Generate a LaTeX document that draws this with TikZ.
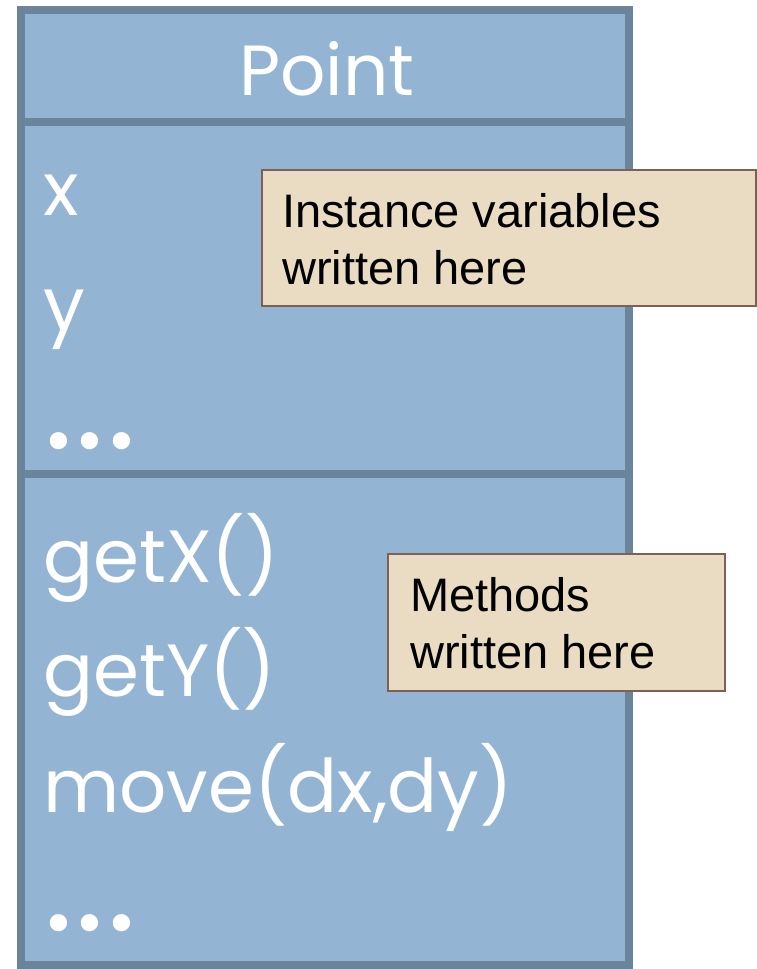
\documentclass[tikz,border=0pt]{standalone}
\usepackage{fontspec}
\setmainfont{Poppins}
\newfontfamily\notefont{Liberation Sans}
\definecolor{clsfill}{HTML}{93B4D2}
\definecolor{clsline}{HTML}{6A859B}
\definecolor{notefill}{HTML}{EADCC3}
\definecolor{noteline}{HTML}{7F6055}
\tikzset{
  px/.style={x=1pt,y=-1pt},
  clsbox/.style={draw=clsline, fill=clsfill, line width=8pt, rectangle, inner sep=0pt},
  divider/.style={draw=clsline, line width=8pt},
  member/.style={anchor=base west, inner sep=0pt, text=white, font=\fontsize{74}{90}\selectfont},
  dotsrow/.style={anchor=west, inner sep=0pt, text=white, font=\fontsize{70}{90}\selectfont},
  title/.style={anchor=base, inner sep=0pt, text=white, font=\fontsize{71}{90}\selectfont},
  notebox/.style={draw=noteline, fill=notefill, line width=2pt, rectangle, inner sep=0pt},
  notetext/.style={anchor=base west, inner sep=0pt, text=black, font=\notefont\fontsize{47}{57}\selectfont, align=left},
}
\newcommand{\threedots}{\textbullet\kern3pt\textbullet\kern3pt\textbullet}
\begin{document}
\begin{tikzpicture}[px]
\useasboundingbox (0,0) rectangle (757,969);
% class box
\node[clsbox, minimum width=608pt, minimum height=955pt] (cls) at (325,487.5) {};
\coordinate (d1w) at (21,122); \coordinate (d1e) at (629,122);
\coordinate (d2w) at (21,474); \coordinate (d2e) at (629,474);
\draw[divider] (d1w) -- (d1e);
\draw[divider] (d2w) -- (d2e);
\node[title] (name) at (327,95) {Point};
\node[member] (vx) at (43,215) {x};
\node[member] (vy) at (43,330) {y};
\node[dotsrow] (vdots) at (44,449) {\threedots};
\node[member] (mgx) at (43,582) {getX()};
\node[member] (mgy) at (43,696) {getY()};
\node[member] (mmv) at (43,812) {move(dx,dy)};
\node[dotsrow] (mdots) at (44,931) {\threedots};
% notes
\node[notebox, minimum width=494pt, minimum height=136pt] (n1) at (508.5,237.5) {};
\node[notetext] (n1t) at (282,227) {Instance variables};
\node[notetext] (n1u) at (282,284) {written here};
\node[notebox, minimum width=337pt, minimum height=137pt] (n2) at (556,622) {};
\node[notetext] (n2t) at (410,611) {Methods};
\node[notetext] (n2u) at (410,668) {written here};
\end{tikzpicture}
\end{document}
